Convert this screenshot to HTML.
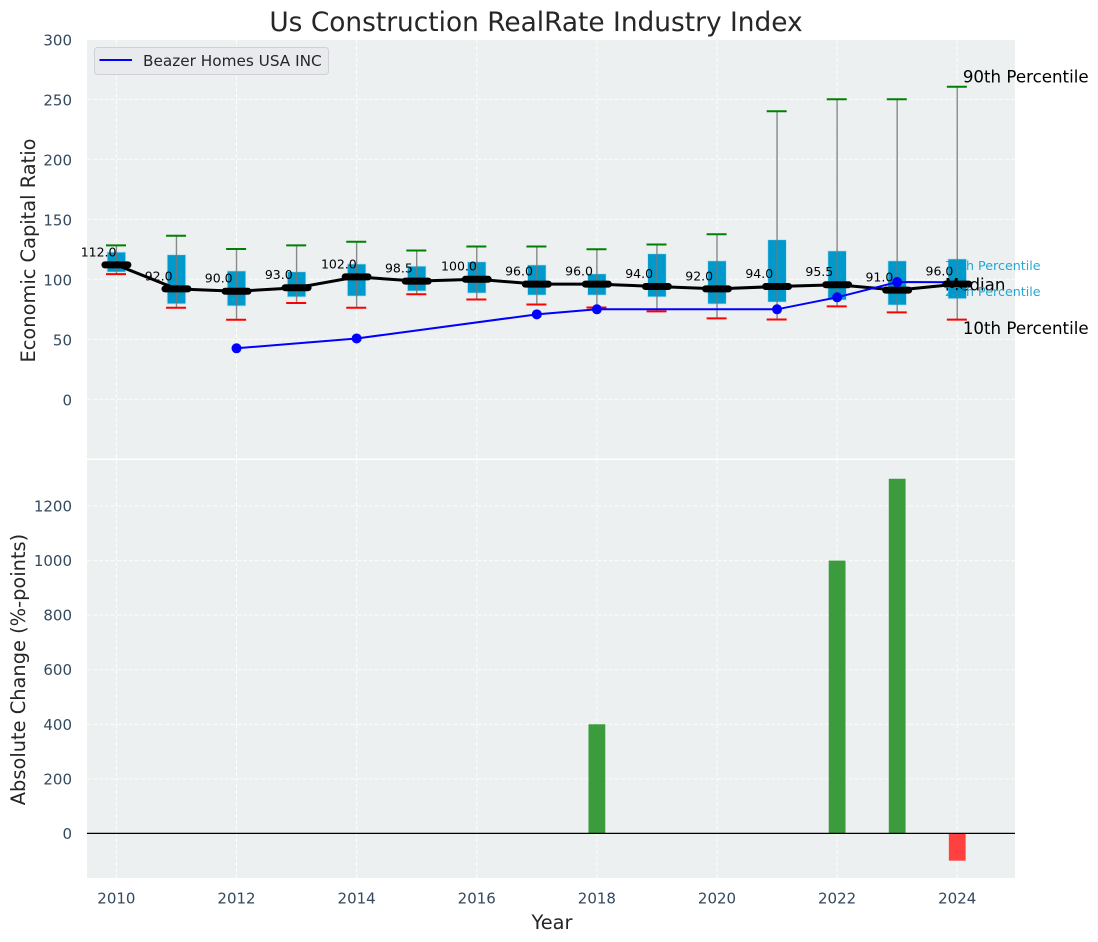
<!DOCTYPE html>
<html>
<head>
<meta charset="utf-8">
<title>Us Construction RealRate Industry Index</title>
<style>
html,body{margin:0;padding:0;background:#fff;}
svg{display:block;font-family:"DejaVu Sans","Liberation Sans",sans-serif;}
</style>
</head>
<body>
<svg id="chart" xmlns="http://www.w3.org/2000/svg" width="1098" height="942" viewBox="0 0 1098 942">
  <rect x="87" y="40" width="928" height="418.5" fill="#ecf0f1"/>
  <rect x="87" y="460" width="928" height="418" fill="#ecf0f1"/>
  <g id="grid"></g>
  <g id="bars"></g>
  <g id="boxes"></g>
  <g id="lines"></g>
  <g id="ticks"></g>
  <g id="notes"></g>
  <text x="536" y="31" text-anchor="middle" font-size="26.4" fill="#262626">Us Construction RealRate Industry Index</text>
  <text transform="translate(35,250.5) rotate(-90)" text-anchor="middle" font-size="19.4" fill="#262626">Economic Capital Ratio</text>
  <text transform="translate(25,669.5) rotate(-90)" text-anchor="middle" font-size="19.4" fill="#262626">Absolute Change (%-points)</text>
  <text x="552" y="929" text-anchor="middle" font-size="19.4" fill="#262626">Year</text>
  <g>
    <rect x="94.5" y="47.5" width="234" height="27" rx="3" fill="#e8eaee" stroke="#cfd1d4" stroke-width="1"/>
    <line x1="99.5" x2="132" y1="60" y2="60" stroke="#0000ff" stroke-width="2"/>
    <text x="143" y="66" font-size="15.28" fill="#262626">Beazer Homes USA INC</text>
  </g>
</svg>
<script>
const years = [2010,2011,2012,2013,2014,2015,2016,2017,2018,2019,2020,2021,2022,2023,2024];
const p90 = [128.3,136.3,125.3,128.3,131.3,124,127.3,127.3,125,129,137.5,240,250,250,260.5];
const p75 = [122.7,120.5,107,106.3,112.8,111,114.6,112,104.6,121.3,115.4,133,123.7,115.4,117];
const medians = [112,92,90,93,102,98.5,100,96,96,94,92,94,95.5,91,96];
const p25 = [106,79.5,77.8,85.3,86,90.2,88.5,86.8,86.8,85.3,79.4,81,82.7,78.5,83.8];
const p10 = [104.3,76.3,66.3,80.3,76.3,87.5,83.2,79,76.5,73.3,67.4,66.5,77.4,72.4,66.4];
const beazerYears = [2012,2014,2017,2018,2021,2022,2023,2024];
const beazerValues = [42.5,50.7,70.8,75,75,85,97.7,97.5];
const changeYears = [2018,2022,2023,2024];
const changeValues = [400,1000,1300,-100];
const xTicks = [2010,2012,2014,2016,2018,2020,2022,2024];
const topTicks = [0,50,100,150,200,250,300];
const bottomTicks = [0,200,400,600,800,1000,1200];

const NS = 'http://www.w3.org/2000/svg';
function sx(v){ return 116.4 + (v - 2010) * 60.06; }
function sy(v){ return 399.3 - v * 1.2; }
function sb(v){ return 833.4 - v * 0.2728; }
function mk(parent, tag, attrs, text){
  const el = document.createElementNS(NS, tag);
  for (const k in attrs) el.setAttribute(k, attrs[k]);
  if (text !== undefined) el.textContent = text;
  document.getElementById(parent).appendChild(el);
  return el;
}
let el;

// grid
xTicks.forEach(function(t){
  el = mk('grid','line',{x1:sx(t),x2:sx(t),y1:40,y2:458.5,stroke:'#fff','stroke-width':1,'stroke-dasharray':'4 2','stroke-opacity':0.85});
  
  
  el = mk('grid','line',{x1:sx(t),x2:sx(t),y1:460,y2:878,stroke:'#fff','stroke-width':1,'stroke-dasharray':'4 2','stroke-opacity':0.85});
  
  
  el = mk('ticks','text',{x:sx(t),y:903.5,'text-anchor':'middle','font-size':15,fill:'#34495e'},String(t));
  
  
});
topTicks.forEach(function(t){
  el = mk('grid','line',{x1:87,x2:1015,y1:sy(t),y2:sy(t),stroke:'#fff','stroke-width':1,'stroke-dasharray':'4 2','stroke-opacity':0.85});
  
  
  el = mk('ticks','text',{x:72,y:sy(t)+6,'text-anchor':'end','font-size':15,fill:'#34495e'},String(t));
  
  
});
bottomTicks.forEach(function(t){
  el = mk('grid','line',{x1:87,x2:1015,y1:sb(t),y2:sb(t),stroke:'#fff','stroke-width':1,'stroke-dasharray':'4 2','stroke-opacity':0.85});
  
  
  el = mk('ticks','text',{x:72,y:sb(t)+5.5,'text-anchor':'end','font-size':15,fill:'#34495e'},String(t));
  
  
});

// change bars
changeYears.forEach(function(y,i){
  const v = changeValues[i];
  const top = Math.min(sb(v), sb(0));
  const h = Math.abs(sb(v) - sb(0));
  el = mk('bars','rect',{x:sx(y)-8.4,y:top,width:16.8,height:h,fill:v>=0?'#3c9b3c':'#ff4040'});
  
  
});
el = mk('bars','line',{x1:87,x2:1015,y1:sb(0),y2:sb(0),stroke:'#000','stroke-width':1.3});



// boxes, whiskers and caps
years.forEach(function(y,i){
  const x = sx(y);
  el = mk('boxes','rect',{x:x-9.3,y:sy(p75[i]),width:18.6,height:sy(p25[i])-sy(p75[i]),fill:'#0099cc',stroke:'#bfe3ef','stroke-width':0.8});
  
  
  el = mk('boxes','line',{x1:x,x2:x,y1:sy(p90[i]),y2:sy(p10[i]),stroke:'#777','stroke-width':1.4,'stroke-opacity':0.85});
  
  
  el = mk('boxes','line',{x1:x-10.4,x2:x+9.6,y1:sy(p90[i]),y2:sy(p90[i]),stroke:'#008000','stroke-width':2});
  
  
  el = mk('boxes','line',{x1:x-10.4,x2:x+9.6,y1:sy(p10[i]),y2:sy(p10[i]),stroke:'#ff0000','stroke-width':2});
  
  
});

// median line
el = mk('lines','polyline',{points:years.map(function(y,i){return sx(y)+','+sy(medians[i]);}).join(' '),fill:'none',stroke:'#000','stroke-width':3,'stroke-linejoin':'round'});



// company line
el = mk('lines','polyline',{points:beazerYears.map(function(y,i){return sx(y)+','+sy(beazerValues[i]);}).join(' '),fill:'none',stroke:'#0000ff','stroke-width':2});



// median bars
years.forEach(function(y,i){
  el = mk('lines','line',{x1:sx(y)-11.5,x2:sx(y)+11.5,y1:sy(medians[i]),y2:sy(medians[i]),stroke:'#000','stroke-width':7,'stroke-linecap':'round'});
  
  
});

// company markers
beazerYears.forEach(function(y,i){
  if (i === beazerYears.length - 1) return;
  el = mk('lines','circle',{cx:sx(y),cy:sy(beazerValues[i]),r:5,fill:'#0000ff'});
  
  
});

// median value labels
years.forEach(function(y,i){
  el = mk('notes','text',{x:sx(y)-17.8,y:sy(medians[i])-8.6,'text-anchor':'middle','font-size':12.5,fill:'#000'},medians[i].toFixed(1));
  
  
});

// percentile annotations for the final year
const last = years.length - 1;
const lastX = sx(years[last]);
el = mk('notes','text',{x:lastX+5.6,y:sy(p90[last])-4.2,'font-size':16.67,fill:'#000'},'90th Percentile');


el = mk('notes','text',{x:lastX+5.6,y:sy(p10[last])+14.3,'font-size':16.67,fill:'#000'},'10th Percentile');


el = mk('notes','text',{x:lastX-12.4,y:sy(medians[last])+6.5,'font-size':16.67,fill:'#000'},'Median');


el = mk('notes','text',{x:lastX-12.4,y:sy(p75[last])+11,'font-size':12.7,fill:'#0099cc','fill-opacity':0.85},'75th Percentile');


el = mk('notes','text',{x:lastX-12.4,y:sy(p25[last])-2.5,'font-size':12.7,fill:'#0099cc','fill-opacity':0.85},'25th Percentile');


</script>
</body>
</html>
